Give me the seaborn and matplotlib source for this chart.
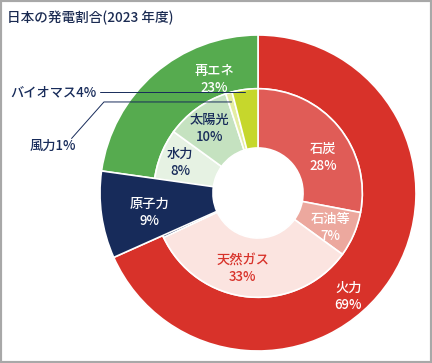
import numpy as np
import matplotlib
matplotlib.use("Agg")
import matplotlib.pyplot as plt
import seaborn as sns
from matplotlib.patches import Rectangle

# ==========================
# DATA
# ==========================

outer_labels = ["火力", "原子力", "再エネ"]
outer_values = [69, 9, 23]

inner_labels = ["石炭", "石油等", "天然ガス", "原子力", "水力", "太陽光", "風力", "バイオマス"]
inner_values = [28, 7, 33, 9, 8, 10, 1, 4]

# ==========================
# STYLE
# ==========================

sns.set_theme(style="white")
plt.rcParams["font.family"] = ["Noto Sans CJK JP", "DejaVu Sans"]

navy = "#172b5a"
red = "#d8322a"
outer_colors = [red, navy, "#56ab4f"]
inner_colors = ["#e05c57", "#eca89e", "#fbe4e0", navy,
                "#e6f2e3", "#c5e2c0", "#e4eda2", "#c6d72c"]
inner_text = ["white", "white", red, "white", navy, navy, navy, navy]

R_OUT, R_MID, R_HOLE = 1.0, 0.66, 0.285
FS = 9.5
FW = "medium"

# label placement: (angle shift in deg, radius)
outer_place = {"火力": (-16, 0.87), "原子力": (2, 0.70), "再エネ": (-20, 0.77)}
inner_place = {"石炭": (-11, 0.47), "石油等": (-2, 0.51), "天然ガス": (-6, 0.49),
               "水力": (0, 0.53), "太陽光": (1, 0.51)}

fig = plt.figure(figsize=(4.32, 3.63), dpi=100)
ax = fig.add_axes([0, 0, 1, 1])

wedges_out, _ = ax.pie(
    outer_values, radius=R_OUT, colors=outer_colors,
    startangle=90, counterclock=False,
    wedgeprops=dict(width=R_OUT - R_MID, edgecolor="white", linewidth=1.2),
)
wedges_in, _ = ax.pie(
    inner_values, radius=R_MID, colors=inner_colors,
    startangle=90, counterclock=False,
    wedgeprops=dict(width=R_MID - R_HOLE, edgecolor="white", linewidth=1.2),
)

# nuclear spans both rings
nuc = wedges_out[outer_labels.index("原子力")]
nuc.set_width(R_OUT - R_HOLE)
nuc.set_zorder(5)


def mid_angle(w):
    return np.deg2rad((w.theta1 + w.theta2) / 2)


def put_label(w, name, val, place, color):
    shift, r = place
    a = mid_angle(w) + np.deg2rad(shift)
    ax.text(r * np.cos(a), r * np.sin(a), f"{name}\n{val}%",
            ha="center", va="center", color=color, fontsize=FS,
            fontweight=FW, linespacing=1.25, zorder=6)


for w, name, val in zip(wedges_out, outer_labels, outer_values):
    put_label(w, name, val, outer_place[name], "white")

for w, name, val, c in zip(wedges_in, inner_labels, inner_values, inner_text):
    if name in inner_place:
        put_label(w, name, val, inner_place[name], c)

# leader lines for small slices
w_bio = wedges_in[inner_labels.index("バイオマス")]
a = mid_angle(w_bio)
px, py = 0.645 * np.cos(a), 0.645 * np.sin(a)
ax.plot([-1.0, px], [py, py], color=navy, lw=0.7, zorder=7)
ax.text(-1.02, py, f"バイオマス{inner_values[-1]}%", ha="right", va="center",
        color=navy, fontsize=FS, fontweight=FW)

w_wind = wedges_in[inner_labels.index("風力")]
a = mid_angle(w_wind)
px, py = 0.60 * np.cos(a), 0.60 * np.sin(a)
ax.plot([px, -0.975, -1.18], [py, py, 0.345], color=navy, lw=0.7, zorder=7)
ax.text(-1.30, 0.30, f"風力{inner_values[6]}%", ha="center", va="center",
        color=navy, fontsize=FS, fontweight=FW)

ax.set_xlim(-258 / 158, (432 - 258) / 158)
ax.set_ylim(-170 / 158, 193 / 158)
ax.set_aspect("equal")
ax.axis("off")

fig.text(0.017, 0.95, "日本の発電割合(2023 年度)", ha="left", va="center",
         fontsize=9.8, color="#1b2b52", fontweight=FW)
fig.patches.append(Rectangle((0, 0), 1, 1, transform=fig.transFigure,
                             fill=False, edgecolor="#a8a8a8", linewidth=3))

fig.savefig("out.png", dpi=100)
